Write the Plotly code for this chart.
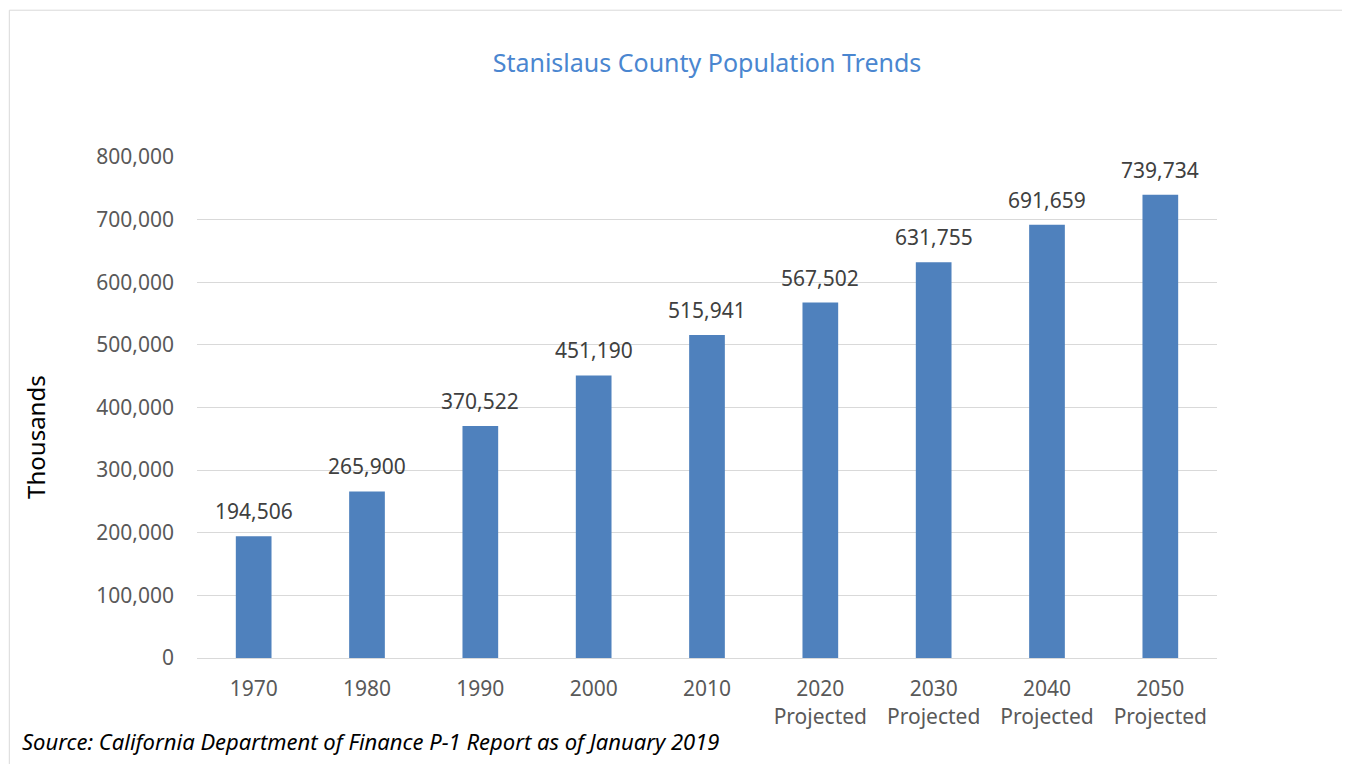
import plotly.graph_objects as go

# Chart data
years = ["1970", "1980", "1990", "2000", "2010",
         "2020<br>Projected", "2030<br>Projected", "2040<br>Projected", "2050<br>Projected"]
population = [194506, 265900, 370522, 451190, 515941, 567502, 631755, 691659, 739734]
y_ticks = [0, 100000, 200000, 300000, 400000, 500000, 600000, 700000, 800000]

BAR_COLOR = '#4F81BD'
TEXT_GREY = '#595959'
FONT = 'Noto Sans'

fig = go.Figure()
fig.add_trace(
    go.Bar(
        x=years,
        y=population,
        marker=dict(color=BAR_COLOR, line=dict(width=0)),
        hovertemplate='%{x}: %{y:,}<extra></extra>',
    )
)

# value labels sit a bit higher above the bars than plotly's outside text.
# category axes take the serial index for annotations ("1970" would be read as a number)
for idx, value in enumerate(population):
    fig.add_annotation(
        x=idx, y=value,
        text=f'{value:,}',
        showarrow=False,
        yanchor='bottom',
        yshift=9,
        font=dict(family=FONT, size=21, color='#404040'),
    )

# page has an 8px body margin, so the figure is sized to fit inside it
fig.update_layout(
    width=1342,
    height=756,
    paper_bgcolor='white',
    plot_bgcolor='white',
    margin=dict(l=189, r=133, t=149, b=106),
    bargap=0.685,
    showlegend=False,
    title=dict(
        text='Stanislaus County Population Trends',
        font=dict(family=FONT, size=25, color='#4A86D0'),
        xref='paper', x=0.5, xanchor='center',
        y=0.927, yanchor='middle',
    ),
    font=dict(family=FONT, color=TEXT_GREY),
)

fig.update_yaxes(
    range=[0, 800000],
    tickvals=y_ticks,
    tickformat=',',
    tickfont=dict(family=FONT, size=21, color=TEXT_GREY),
    showgrid=True,
    gridcolor='#D9D9D9',
    gridwidth=1,
    zeroline=False,
    showline=False,
    ticks='',
    ticklabelstandoff=22,
)

fig.update_xaxes(
    type='category',
    range=[-0.5, len(years) - 0.5],
    tickfont=dict(family=FONT, size=21, color=TEXT_GREY),
    showline=True,
    linecolor='#D9D9D9',
    linewidth=1,
    ticks='',
    ticklabelstandoff=12,
)

# y axis title sits below the plot centre, so it is placed as an annotation
fig.add_annotation(
    text='Thousands',
    xref='paper', yref='paper',
    x=-0.159, y=0.441,
    xanchor='center', yanchor='middle',
    textangle=-90,
    showarrow=False,
    font=dict(family=FONT, size=24, color='black'),
)

# source note
fig.add_annotation(
    text='<i>Source: California Department of Finance P-1 Report as of January 2019</i>',
    xref='paper', yref='paper',
    x=-0.174, y=-0.165,
    xanchor='left', yanchor='middle',
    showarrow=False,
    font=dict(family=FONT, size=22, color='black'),
)

# chart border
fig.add_shape(
    type='rect',
    xref='paper', yref='paper',
    x0=-0.184, x1=1.13, y0=-0.3, y1=1.293,
    line=dict(color='#D9D9D9', width=1),
    fillcolor='rgba(0,0,0,0)',
    layer='above',
)

fig.write_html("out.html")
